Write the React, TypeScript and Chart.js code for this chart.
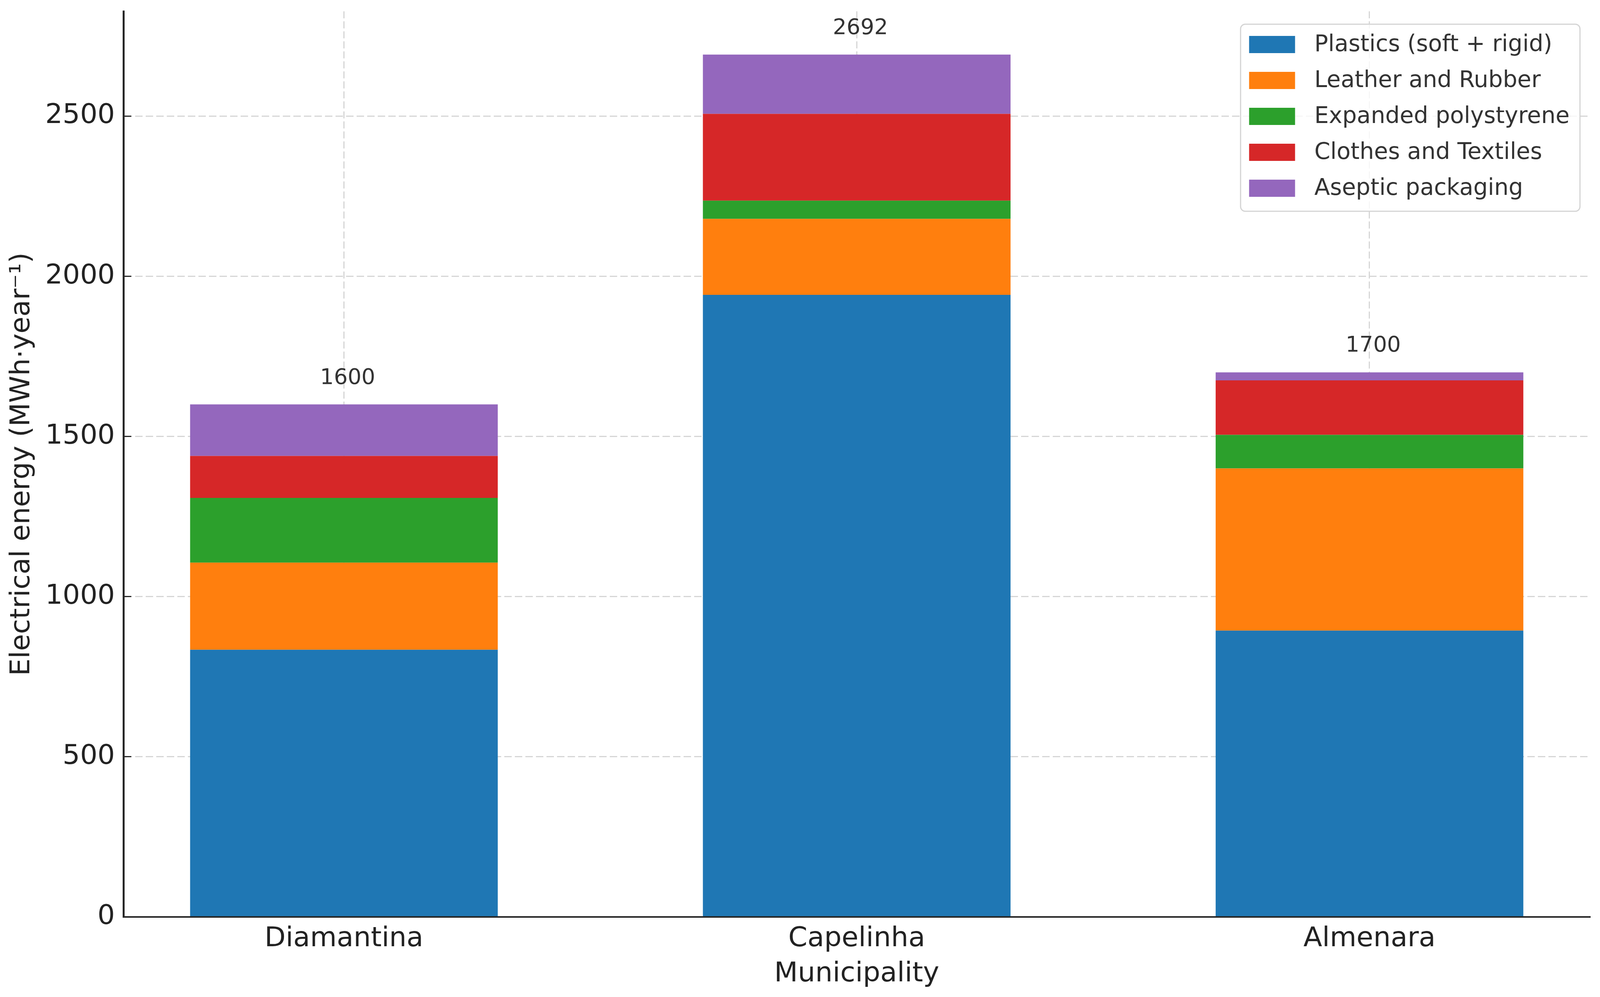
import React, { useEffect, useRef } from "react";
import { Chart, registerables } from "chart.js";

Chart.register(...registerables);

// ---- data ----
const categories = ["Diamantina", "Capelinha", "Almenara"];
const seriesNames = [
  "Plastics (soft + rigid)",
  "Leather and Rubber",
  "Expanded polystyrene",
  "Clothes and Textiles",
  "Aseptic packaging",
];
const plastics = [834, 1942, 894];
const leatherRubber = [272, 237, 506];
const polystyrene = [202, 57, 105];
const textiles = [131, 271, 170];
const aseptic = [161, 185, 25];
const yTicks = [0, 500, 1000, 1500, 2000, 2500];
const seriesColors = ["#1f77b4", "#ff7f0e", "#2ca02c", "#d62728", "#9467bd"];

const seriesValues = [plastics, leatherRubber, polystyrene, textiles, aseptic];
const totals = categories.map((_, i) => seriesValues.reduce((s, arr) => s + arr[i], 0));

const FONT = "'DejaVu Sans', 'Liberation Sans', sans-serif";
const REF_W = 4316;
const REF_H = 2553;

export default function App() {
  const canvasRef = useRef<HTMLCanvasElement | null>(null);

  useEffect(() => {
    if (!canvasRef.current) return;
    const kx = window.innerWidth / REF_W;
    const ky = window.innerHeight / REF_H;
    const kf = Math.sqrt(kx * ky);
    const tickFont = 72 * kf;
    const legendFont = 60 * kf;
    const annFont = 57 * kf;

    const totalsPlugin = {
      id: "stackTotals",
      afterDatasetsDraw(chart: any) {
        const { ctx } = chart;
        const xs = chart.scales.x;
        const ys = chart.scales.y;
        ctx.save();
        ctx.font = `${annFont}px ${FONT}`;
        ctx.fillStyle = "#333333";
        ctx.textAlign = "center";
        ctx.textBaseline = "alphabetic";
        totals.forEach((t, i) => {
          ctx.fillText(String(t), xs.getPixelForValue(i) + 10 * kx, ys.getPixelForValue(t) - 53 * ky);
        });
        ctx.restore();
      },
    };

    const legendPlugin = {
      id: "boxLegend",
      afterDraw(chart: any) {
        const { ctx, chartArea } = chart;
        const datasets = chart.data.datasets;
        ctx.save();
        ctx.font = `${legendFont}px ${FONT}`;
        const maxW = Math.max(...datasets.map((d: any) => ctx.measureText(d.label).width));
        const padL = 23 * kx, sw = 124 * kx, gap = 52 * kx, padR = 28 * kx;
        const sh = 44 * ky, rowH = 92 * ky, firstRow = 52 * ky, padB = 59 * ky;
        const w = padL + sw + gap + maxW + padR;
        const h = firstRow + rowH * (datasets.length - 1) + padB;
        const right = chartArea.right - 27 * kx;
        const left = right - w;
        const top = chartArea.top + 33 * ky;
        ctx.beginPath();
        ctx.roundRect(left, top, w, h, 12);
        ctx.fillStyle = "rgba(255,255,255,0.8)";
        ctx.fill();
        ctx.lineWidth = 3;
        ctx.strokeStyle = "#d4d4d4";
        ctx.stroke();
        datasets.forEach((d: any, i: number) => {
          const cy = top + firstRow + i * rowH;
          ctx.fillStyle = d.backgroundColor;
          ctx.fillRect(left + padL, cy - sh / 2, sw, sh);
          ctx.fillStyle = "#333333";
          ctx.textAlign = "left";
          ctx.textBaseline = "middle";
          ctx.fillText(d.label, left + padL + sw + gap, cy + 2);
        });
        ctx.restore();
      },
    };

    const chart = new Chart(canvasRef.current, {
      type: "bar",
      data: {
        datasets: seriesNames.map((name, k) => ({
          label: name,
          data: seriesValues[k].map((v, i) => ({ x: i, y: v })),
          backgroundColor: seriesColors[k],
          borderWidth: 0,
          barPercentage: 0.6,
          categoryPercentage: 1.0,
        })),
      },
      options: {
        animation: false,
        responsive: true,
        maintainAspectRatio: false,
        layout: { padding: { top: 29 * ky, right: 27 * kx, left: 0, bottom: 0 } },
        plugins: {
          legend: { display: false },
          tooltip: { enabled: false },
        },
        scales: {
          x: {
            type: "linear",
            stacked: true,
            offset: false,
            min: -0.43,
            max: 2.43,
            afterBuildTicks: (s: any) => {
              s.ticks = categories.map((_, i) => ({ value: i }));
            },
            afterFit: (s: any) => {
              s.height = 205 * ky;
              s.paddingLeft = 0;
              s.paddingRight = 0;
            },
            ticks: {
              autoSkip: false,
              maxRotation: 0,
              padding: 15 * ky,
              color: "#222222",
              font: { family: FONT, size: tickFont },
              callback: (v: any) => categories[v] ?? "",
            },
            grid: { color: "#d6d6d6", lineWidth: 3, drawTicks: false, offset: false },
            border: { display: true, color: "#262626", width: 4, dash: [19 * kx, 8 * kx], z: 1 },
            title: {
              display: true,
              text: "Municipality",
              color: "#222222",
              font: { family: FONT, size: tickFont },
              padding: { top: 0, bottom: 58 * ky - tickFont * 0.6 },
            },
          },
          y: {
            type: "linear",
            stacked: true,
            min: 0,
            max: 2827,
            afterBuildTicks: (s: any) => {
              s.ticks = yTicks.map((v) => ({ value: v }));
            },
            afterFit: (s: any) => {
              s.width = 333 * kx;
              s.paddingTop = 0;
              s.paddingBottom = 0;
            },
            ticks: {
              padding: 44 * kx,
              color: "#222222",
              font: { family: FONT, size: tickFont },
              callback: (v: any) => String(v),
            },
            grid: {
              color: "#d6d6d6",
              lineWidth: 3,
              drawTicks: true,
              tickLength: -21 * kx,
              tickColor: "#262626",
              tickWidth: 3,
            },
            border: { display: true, color: "#262626", width: 5, dash: [19 * ky, 8 * ky], z: 1 },
            title: {
              display: true,
              text: "Electrical energy (MWh·year⁻¹)",
              color: "#222222",
              font: { family: FONT, size: tickFont },
              padding: { top: 60 * kx - tickFont * 0.6, bottom: 0 },
            },
          },
        },
      },
      plugins: [totalsPlugin, legendPlugin],
    } as any);
    return () => chart.destroy();
  }, []);

  return (
    <div style={{ position: "fixed", left: 0, top: 0, width: "100vw", height: "100vh", background: "#ffffff" }}>
      <canvas ref={canvasRef} />
    </div>
  );
}
